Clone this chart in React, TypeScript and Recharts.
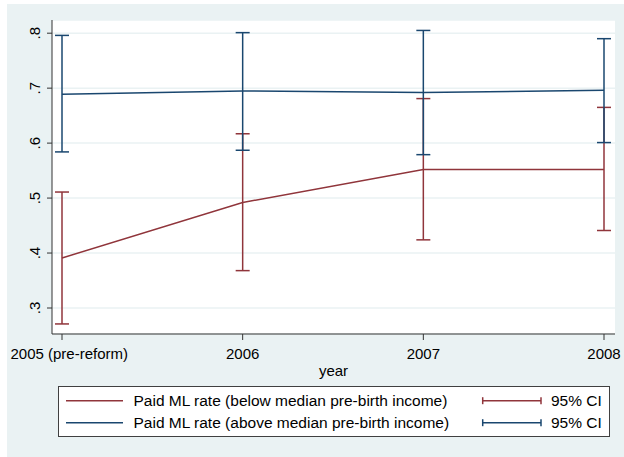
import React from 'react';
import { ComposedChart, Line, XAxis, YAxis, CartesianGrid, ErrorBar } from 'recharts';

const years = ['2005 (pre-reform)', '2006', '2007', '2008'];
const belowRate = [0.391, 0.492, 0.552, 0.552];
const belowLow = [0.271, 0.368, 0.424, 0.441];
const belowHigh = [0.511, 0.617, 0.681, 0.665];
const aboveRate = [0.689, 0.695, 0.692, 0.696];
const aboveLow = [0.584, 0.587, 0.579, 0.601];
const aboveHigh = [0.796, 0.801, 0.805, 0.79];
const yTicks = [0.3, 0.4, 0.5, 0.6, 0.7, 0.8];

const RED = '#90353b';
const BLUE = '#1a476f';
const BG = '#eaf2f3';
const FONT = '"Liberation Sans", Arial, sans-serif';
const TICK_FONT = 15;

const data = years.map((year, i) => ({
  year,
  below: belowRate[i],
  belowErr: [belowRate[i] - belowLow[i], belowHigh[i] - belowRate[i]],
  above: aboveRate[i],
  aboveErr: [aboveRate[i] - aboveLow[i], aboveHigh[i] - aboveRate[i]],
}));

let measureCtx: CanvasRenderingContext2D | null = null;
const measure = (s: string) => {
  if (typeof document === 'undefined') return s.length * TICK_FONT * 0.5;
  if (!measureCtx) {
    const c = document.createElement('canvas');
    measureCtx = c.getContext('2d');
  }
  if (!measureCtx) return s.length * TICK_FONT * 0.5;
  measureCtx.font = `${TICK_FONT}px "Liberation Sans", Arial, sans-serif`;
  return measureCtx.measureText(s).width;
};

const XTick = (props: any) => {
  const { x, y, payload } = props;
  const label = String(payload.value);
  const w = measure(label);
  const minLeft = 10.5;
  let left = x - w / 2;
  if (left < minLeft) left = minLeft;
  return (
    <text x={left} y={y} dy="0.71em" textAnchor="start" fontSize={TICK_FONT} fontFamily={FONT} fill="#000">
      {label}
    </text>
  );
};

const YTick = (props: any) => {
  const { x, y, payload } = props;
  const label = String(payload.value).replace(/^0/, '');
  return (
    <text
      x={x}
      y={y}
      transform={`rotate(-90, ${x}, ${y})`}
      textAnchor="middle"
      fontSize={TICK_FONT}
      fontFamily={FONT}
      fill="#000"
    >
      {label}
    </text>
  );
};

const XLabel = (props: any) => {
  const vb = props.viewBox;
  return (
    <text
      x={vb.x + vb.width / 2}
      y={vb.y + 41.5}
      textAnchor="middle"
      fontSize={TICK_FONT}
      fontFamily={FONT}
      fill="#000"
    >
      year
    </text>
  );
};

const LegendRow = ({ y, color, label }: { y: number; color: string; label: string }) => (
  <g>
    <line x1={7} x2={64} y1={y} y2={y} stroke={color} strokeWidth={1.5} />
    <text x={74.5} y={y + 5.5} fontSize={15.5} fontFamily={FONT} fill="#000">
      {label}
    </text>
    <line x1={423.7} x2={482} y1={y} y2={y} stroke={color} strokeWidth={1.5} />
    <line x1={423.7} x2={423.7} y1={y - 3.5} y2={y + 3.5} stroke={color} strokeWidth={1.5} />
    <line x1={482} x2={482} y1={y - 3.5} y2={y + 3.5} stroke={color} strokeWidth={1.5} />
    <text x={492} y={y + 5.5} fontSize={15.5} fontFamily={FONT} fill="#000">
      95% CI
    </text>
  </g>
);

export default function App() {
  return (
    <div style={{ position: 'absolute', left: 0, top: 0, width: 624, height: 457, background: '#fff' }}>
      <div style={{ position: 'absolute', left: 7, top: 4, right: 0, bottom: 0, background: BG }} />
      <div style={{ position: 'absolute', left: 0, top: 0 }}>
        <ComposedChart
          width={624}
          height={457}
          data={data}
          margin={{ top: 20, right: 9, left: 0, bottom: 83 }}
        >
          <CartesianGrid vertical={false} stroke={BG} strokeWidth={1.5} fill="#ffffff" />
          <XAxis
            dataKey="year"
            padding={{ left: 10, right: 11 }}
            height={40}
            tickSize={6}
            tickMargin={8}
            axisLine={{ stroke: '#333', strokeWidth: 1 }}
            tickLine={{ stroke: '#333', strokeWidth: 1 }}
            tick={<XTick />}
            interval={0}
            label={<XLabel />}
          />
          <YAxis
            type="number"
            domain={[0.2527, 0.824]}
            ticks={yTicks}
            width={52}
            tickSize={5}
            tickMargin={7}
            axisLine={{ stroke: '#333', strokeWidth: 1 }}
            tickLine={{ stroke: '#333', strokeWidth: 1 }}
            tick={<YTick />}
            allowDataOverflow
          />
          <Line
            dataKey="below"
            stroke={RED}
            strokeWidth={1.5}
            dot={false}
            isAnimationActive={false}
          >
            <ErrorBar dataKey="belowErr" stroke={RED} strokeWidth={1.5} width={7} isAnimationActive={false} />
          </Line>
          <Line
            dataKey="above"
            stroke={BLUE}
            strokeWidth={1.5}
            dot={false}
            isAnimationActive={false}
          >
            <ErrorBar dataKey="aboveErr" stroke={BLUE} strokeWidth={1.5} width={7} isAnimationActive={false} />
          </Line>
        </ComposedChart>
      </div>
      <div
        style={{
          position: 'absolute',
          left: 58,
          top: 386,
          width: 552,
          height: 51,
          boxSizing: 'border-box',
          border: '1px solid #404040',
          background: '#fff',
        }}
      >
        <svg width={550} height={49} style={{ position: 'absolute', left: 0, top: 0 }}>
          <LegendRow y={13.7} color={RED} label="Paid ML rate (below median pre-birth income)" />
          <LegendRow y={35.7} color={BLUE} label="Paid ML rate (above median pre-birth income)" />
        </svg>
      </div>
    </div>
  );
}
